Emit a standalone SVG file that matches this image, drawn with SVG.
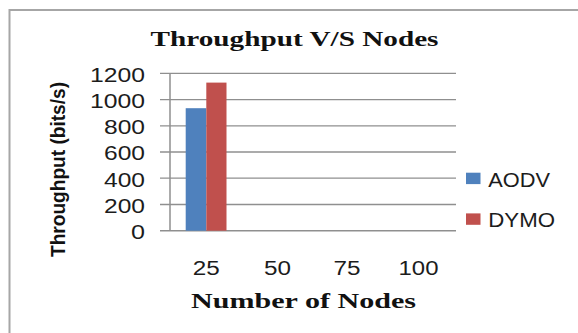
<svg xmlns="http://www.w3.org/2000/svg" width="578" height="333" viewBox="0 0 578 333">
  <style>
    .frame { fill: none; stroke: #a6a6a6; stroke-width: 2; }
    .grid { stroke: #8f8f8f; stroke-width: 1.3; fill: none; }
    .axis { stroke: #8f8f8f; stroke-width: 1.5; fill: none; }
    .title { font-family: "Liberation Serif", "Times New Roman", serif; font-weight: bold; font-size: 21px; fill: #111; }
    .tick { font-family: "Liberation Sans", Arial, sans-serif; font-size: 19.5px; fill: #1c1c1c; }
    .ytitle { font-family: "Liberation Sans", Arial, sans-serif; font-weight: bold; font-size: 20.5px; fill: #111; }
    .legend { font-family: "Liberation Sans", Arial, sans-serif; font-size: 19.5px; fill: #1c1c1c; }
    .aodv { fill: #4f81bd; }
    .dymo { fill: #c0504d; }
  </style>

  <rect width="578" height="333" fill="#ffffff"/>
  <!-- chart area frame (top and left edges visible) -->
  <path class="frame" d="M9.5,340 V10 H580"/>

  <!-- chart title -->
  <text class="title" x="150.5" y="46" textLength="288" lengthAdjust="spacingAndGlyphs">Throughput V/S Nodes</text>

  <!-- gridlines and axes -->
  <g id="grid">
    <line class="grid" x1="160" y1="73.3" x2="456" y2="73.3"/>
    <line class="grid" x1="160" y1="99.6" x2="456" y2="99.6"/>
    <line class="grid" x1="160" y1="125.8" x2="456" y2="125.8"/>
    <line class="grid" x1="160" y1="152" x2="456" y2="152"/>
    <line class="grid" x1="160" y1="178.2" x2="456" y2="178.2"/>
    <line class="grid" x1="160" y1="204.5" x2="456" y2="204.5"/>
    <line class="axis" x1="160" y1="230.7" x2="456" y2="230.7"/>
    <line class="axis" x1="170" y1="73.3" x2="170" y2="230.7"/>
  </g>

  <!-- value axis labels -->
  <g id="y-labels" class="tick" text-anchor="end">
    <text x="145" y="81.6" textLength="55" lengthAdjust="spacingAndGlyphs">1200</text>
    <text x="145" y="107.9" textLength="55" lengthAdjust="spacingAndGlyphs">1000</text>
    <text x="145" y="134.1" textLength="41" lengthAdjust="spacingAndGlyphs">800</text>
    <text x="145" y="160.3" textLength="41" lengthAdjust="spacingAndGlyphs">600</text>
    <text x="145" y="186.5" textLength="41" lengthAdjust="spacingAndGlyphs">400</text>
    <text x="145" y="212.8" textLength="41" lengthAdjust="spacingAndGlyphs">200</text>
    <text x="145" y="239" textLength="14" lengthAdjust="spacingAndGlyphs">0</text>
  </g>

  <!-- value axis title -->
  <text class="ytitle" transform="translate(64.5,169.5) rotate(-90)" x="0" y="0" text-anchor="middle" textLength="175" lengthAdjust="spacingAndGlyphs">Throughput (bits/s)</text>

  <!-- bars for 25 nodes -->
  <g id="series-aodv">
    <rect class="aodv" x="185.7" y="108.2" width="20.6" height="122.5"/>
  </g>
  <g id="series-dymo">
    <rect class="dymo" x="206.3" y="82.6" width="20.2" height="148.1"/>
  </g>

  <!-- category labels -->
  <g id="x-labels" class="tick" text-anchor="middle">
    <text x="206.2" y="275" textLength="27" lengthAdjust="spacingAndGlyphs">25</text>
    <text x="277.5" y="275" textLength="27" lengthAdjust="spacingAndGlyphs">50</text>
    <text x="347" y="275" textLength="27" lengthAdjust="spacingAndGlyphs">75</text>
    <text x="418.5" y="275" textLength="40" lengthAdjust="spacingAndGlyphs">100</text>
  </g>

  <!-- category axis title -->
  <text class="title" x="191" y="307.7" textLength="225" lengthAdjust="spacingAndGlyphs">Number of Nodes</text>

  <!-- legend -->
  <g id="legend-aodv">
    <rect class="aodv" x="466" y="172.7" width="14.5" height="11.4"/>
    <text class="legend" x="488.3" y="186.7" textLength="61.7" lengthAdjust="spacingAndGlyphs">AODV</text>
  </g>
  <g id="legend-dymo">
    <rect class="dymo" x="466" y="213.4" width="14.5" height="11.4"/>
    <text class="legend" x="488.3" y="226.7" textLength="66.7" lengthAdjust="spacingAndGlyphs">DYMO</text>
  </g>
</svg>
